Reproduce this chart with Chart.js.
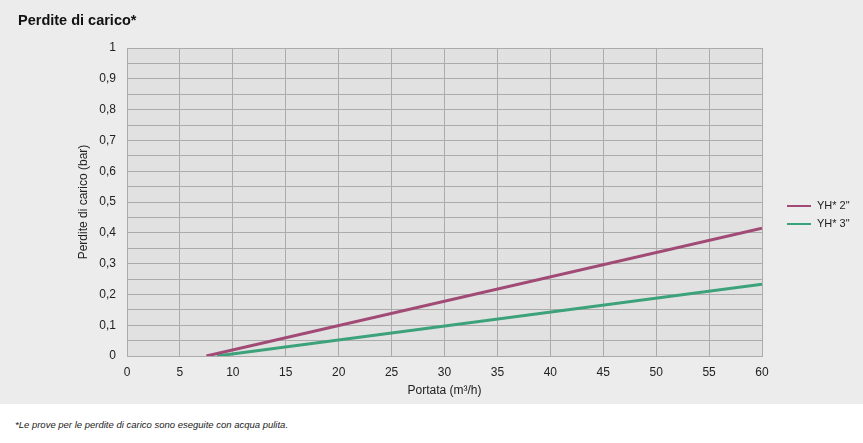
<!DOCTYPE html>
<html>
<head>
<meta charset="utf-8">
<script src="https://cdn.jsdelivr.net/npm/chart.js@4.4.1/dist/chart.umd.min.js"></script>
<style>
  html, body { margin: 0; padding: 0; background: #fff; }
  #wrap { width: 863px; height: 404px; background: #ececec; position: relative; }
  #note { height: 39px; font: italic 9.5px "Liberation Sans", Arial, sans-serif; color: #222; padding: 15px 0 0 15px; box-sizing: border-box; }
</style>
</head>
<body>
<div id="wrap"><canvas id="resultsChart" width="863" height="404"></canvas></div>
<div id="note">*Le prove per le perdite di carico sono eseguite con acqua pulita.</div>
<script>
// portata (m3/h) -> perdite di carico (bar)
const seriesNames = ['YH* 2"', 'YH* 3"'];
const yh2Flow = [7.5, 60];
const yh2Loss = [0, 0.415];
const yh3Flow = [8.5, 60];
const yh3Loss = [0, 0.233];
const seriesColors = ['#a04a75', '#3ca27a'];

const toPoints = (xs, ys) => xs.map((x, i) => ({ x: x, y: ys[i] }));
const font = '"Liberation Sans", Arial, sans-serif';

const extras = {
    id: 'extras',
    afterDraw(chart) {
        const ctx = chart.ctx;
        ctx.save();
        ctx.fillStyle = '#111';
        ctx.font = 'bold 14.5px ' + font;
        ctx.textBaseline = 'middle';
        ctx.fillText('Perdite di carico*', 18, 21);

        // legenda
        ctx.font = '11px ' + font;
        chart.data.datasets.forEach((ds, i) => {
            const y = 206 + i * 18;
            ctx.strokeStyle = ds.borderColor;
            ctx.lineWidth = 2;
            ctx.beginPath();
            ctx.moveTo(787, y);
            ctx.lineTo(811, y);
            ctx.stroke();
            ctx.fillStyle = '#222';
            ctx.fillText(ds.label, 817, y);
        });
        ctx.restore();
    }
};

const plotBg = {
    id: 'plotBg',
    beforeDraw(chart) {
        const a = chart.chartArea;
        chart.ctx.save();
        chart.ctx.fillStyle = '#e1e1e1';
        chart.ctx.fillRect(a.left, a.top, a.right - a.left, a.bottom - a.top);
        chart.ctx.restore();
    }
};

new Chart(document.getElementById('resultsChart').getContext('2d'), {
    type: 'line',
    data: {
        datasets: [
            { label: seriesNames[0], data: toPoints(yh2Flow, yh2Loss), borderColor: seriesColors[0], borderWidth: 3, pointRadius: 0, fill: false },
            { label: seriesNames[1], data: toPoints(yh3Flow, yh3Loss), borderColor: seriesColors[1], borderWidth: 3, pointRadius: 0, fill: false }
        ]
    },
    plugins: [plotBg, extras],
    options: {
        responsive: false,
        animation: false,
        layout: { padding: { left: 76, right: 101, top: 48, bottom: 6 } },
        plugins: { legend: { display: false }, tooltip: { enabled: false } },
        scales: {
            x: {
                type: 'linear',
                min: 0,
                max: 60,
                afterFit: s => { s.height = 42; },
                grid: { color: '#ababab', drawTicks: false },
                border: { color: '#ababab' },
                ticks: { stepSize: 5, autoSkip: false, padding: 9, color: '#222', font: { family: font, size: 12 } },
                title: { display: true, text: 'Portata (m³/h)', color: '#222', padding: 0, font: { family: font, size: 12 } }
            },
            y: {
                min: 0,
                max: 1,
                afterFit: s => { s.width = 51; },
                grid: { color: '#ababab', drawTicks: false },
                border: { color: '#ababab' },
                ticks: {
                    stepSize: 0.05,
                    autoSkip: false,
                    padding: 11,
                    color: '#222',
                    font: { family: font, size: 12 },
                    callback: v => {
                        const r = Math.round(v * 100);
                        return r % 10 === 0 ? String(r / 100).replace('.', ',') : '';
                    }
                },
                title: { display: true, text: 'Perdite di carico (bar)', color: '#222', padding: 0, font: { family: font, size: 12 } }
            }
        }
    }
});
</script>
</body>
</html>
